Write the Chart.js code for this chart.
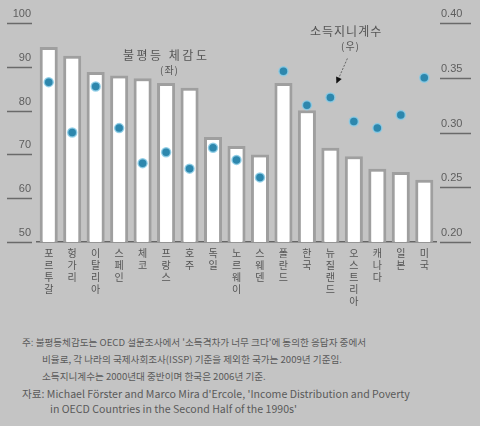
<!DOCTYPE html>
<html>
<head>
<meta charset="utf-8">
<script src="https://cdn.jsdelivr.net/npm/chart.js@4.4.1/dist/chart.umd.min.js"></script>
<style>
  html, body { margin: 0; padding: 0; background: #c4c4c4; }
  #wrap { position: relative; width: 480px; height: 426px; overflow: hidden; font-family: "Noto Sans CJK KR", sans-serif; color: #555; }
  #box { position: absolute; left: 0; top: 0; width: 480px; height: 330px; }
  .note { position: absolute; white-space: nowrap; font-size: 12px; letter-spacing: 1px; }
  .foot { position: absolute; white-space: nowrap; font-size: 9.6px; color: #5a5a5a; }
</style>
</head>
<body>
<div id="wrap">
  <div id="box"><canvas id="chart"></canvas></div>
  <div class="note" style="left:123px; top:46px; letter-spacing:2.5px;">불평등 체감도</div>
  <div class="note" style="left:160px; top:62px; font-size:10px;">(좌)</div>
  <div class="note" style="left:310px; top:22px;">소득지니계수</div>
  <div class="note" style="left:341px; top:38px; font-size:10px;">(우)</div>
  <div class="foot" style="left:22px; top:335px;">주: 불평등체감도는 OECD 설문조사에서 '소득격차가 너무 크다'에 동의한 응답자 중에서</div>
  <div class="foot" style="left:42px; top:352px;">비율로, 각 나라의 국제사회조사(ISSP) 기준을 제외한 국가는 2009년 기준임.</div>
  <div class="foot" style="left:42px; top:369px;">소득지니계수는 2000년대 중반이며 한국은 2006년 기준.</div>
  <div class="foot" style="left:22px; top:386px; font-size:10.6px;">자료: Michael Förster and Marco Mira d'Ercole, 'Income Distribution and Poverty</div>
  <div class="foot" style="left:50px; top:401px; font-size:10.6px;">in OECD Countries in the Second Half of the 1990s'</div>
</div>
<script>
// data
const categories = ['포르투갈', '헝가리', '이탈리아', '스페인', '체코', '프랑스', '호주', '독일',
  '노르웨이', '스웨덴', '폴란드', '한국', '뉴질랜드', '오스트리아', '캐나다', '일본', '미국'];
const perception = [94.5, 92.5, 88.8, 88, 87.4, 86.3, 85.2, 74, 71.9, 70, 86.3, 80.1, 71.5, 69.6, 66.7, 66, 64.2];
const gini = [0.346, 0.300, 0.342, 0.304, 0.272, 0.282, 0.267, 0.286, 0.275, 0.259, 0.356, 0.325, 0.332, 0.310, 0.304, 0.316, 0.350];
const leftTicks = [50, 60, 70, 80, 90, 100];
const rightTicks = ['0.20', '0.25', '0.30', '0.35', '0.40'];

// tick labels sit on top of a short underline
const tickPlugin = {
  id: 'underTicks',
  afterDraw(chart) {
    const ctx = chart.ctx;
    const y = chart.scales.y, y1 = chart.scales.y1;
    ctx.save();
    ctx.font = '11px "Liberation Sans", sans-serif';
    ctx.fillStyle = '#5e5e5e';
    ctx.strokeStyle = '#6a6a6a';
    ctx.lineWidth = 1.5;
    ctx.textBaseline = 'middle';
    leftTicks.forEach(v => {
      const py = Math.round(y.getPixelForValue(v)) + 0.5;
      ctx.textAlign = 'right';
      ctx.fillText(String(v), 31, py - 10);
      ctx.beginPath(); ctx.moveTo(7, py); ctx.lineTo(32, py); ctx.stroke();
    });
    rightTicks.forEach(t => {
      const py = Math.round(y1.getPixelForValue(parseFloat(t))) + 0.5;
      ctx.textAlign = 'left';
      ctx.fillText(t, 441, py - 10);
      ctx.beginPath(); ctx.moveTo(440, py); ctx.lineTo(471, py); ctx.stroke();
    });
    // leader arrow to the gini marker
    const pt = chart.getDatasetMeta(0).data[12];
    const x0 = pt.x + 17, y0 = pt.y - 39, x1 = pt.x + 6, y1p = pt.y - 14;
    ctx.strokeStyle = '#666';
    ctx.lineWidth = 1;
    ctx.setLineDash([2, 1.5]);
    ctx.beginPath(); ctx.moveTo(x0, y0); ctx.lineTo(x1, y1p); ctx.stroke();
    ctx.setLineDash([]);
    const a = Math.atan2(y1p - y0, x1 - x0);
    ctx.fillStyle = '#111';
    ctx.beginPath();
    ctx.moveTo(x1, y1p);
    ctx.lineTo(x1 - 7 * Math.cos(a - 0.45), y1p - 7 * Math.sin(a - 0.45));
    ctx.lineTo(x1 - 7 * Math.cos(a + 0.45), y1p - 7 * Math.sin(a + 0.45));
    ctx.closePath(); ctx.fill();
    ctx.restore();
  }
};

new Chart(document.getElementById('chart'), {
  data: {
    labels: categories,
    datasets: [{
      type: 'line',
      label: '소득지니계수',
      data: gini,
      yAxisID: 'y1',
      showLine: false,
      order: 0,
      pointRadius: 4.5,
      pointBackgroundColor: '#2d87ad',
      pointBorderColor: 'rgba(140,205,230,0.85)',
      pointBorderWidth: 1.5
    }, {
      type: 'bar',
      label: '불평등 체감도',
      data: perception,
      yAxisID: 'y',
      order: 1,
      backgroundColor: '#ffffff',
      borderColor: '#9f9f9f',
      borderWidth: 3,
      barPercentage: 0.77,
      categoryPercentage: 1
    }]
  },
  options: {
    responsive: true,
    maintainAspectRatio: false,
    animation: false,
    layout: { padding: { top: 23, bottom: 0, left: 0, right: 0 } },
    plugins: { legend: { display: false }, tooltip: { enabled: false } },
    scales: {
      x: {
        grid: { display: false, drawTicks: false },
        border: { display: true, color: '#666', width: 1.5 },
        afterFit: s => { s.height = 88; },
        ticks: {
          autoSkip: false, maxRotation: 0, minRotation: 0, padding: 5,
          color: '#555',
          font: { family: '"Noto Sans CJK KR"', size: 10, lineHeight: 1.2 },
          callback: (v, i) => categories[i].split('')
        }
      },
      y: {
        position: 'left', min: 50, max: 100,
        grid: { display: false }, border: { display: false },
        ticks: { display: false },
        afterFit: s => { s.width = 37; }
      },
      y1: {
        position: 'right', min: 0.2, max: 0.4,
        grid: { display: false }, border: { display: false },
        ticks: { display: false },
        afterFit: s => { s.width = 44; }
      }
    }
  },
  plugins: [tickPlugin]
});
</script>
</body>
</html>
